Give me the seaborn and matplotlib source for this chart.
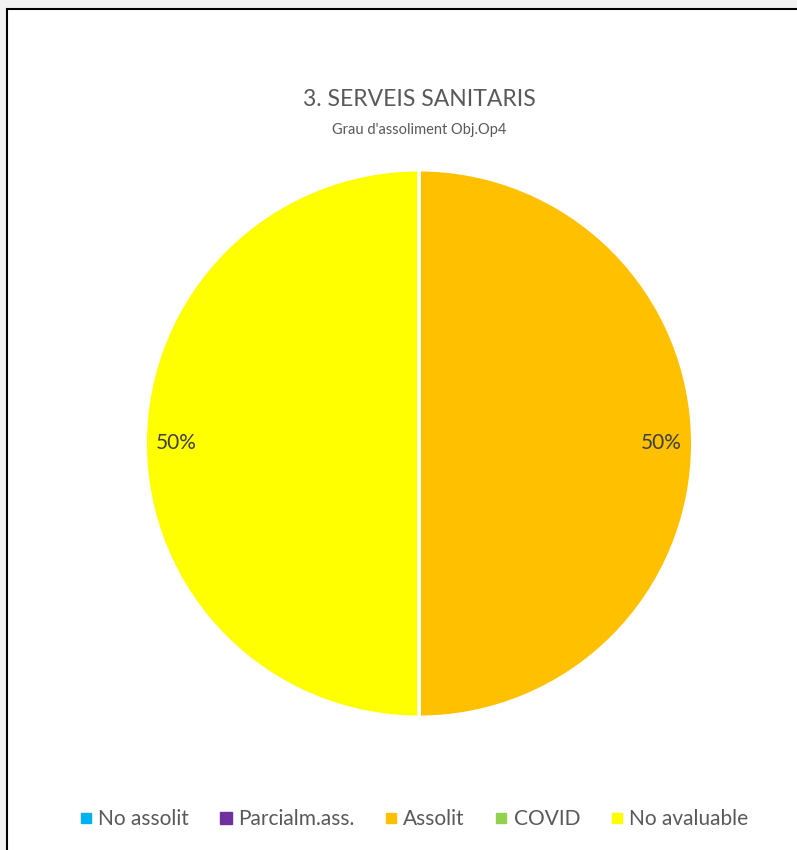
import matplotlib
matplotlib.use("Agg")
import matplotlib.pyplot as plt
from matplotlib.patches import Rectangle
from matplotlib.lines import Line2D
import seaborn as sns

categories = ["No assolit", "Parcialm.ass.", "Assolit", "COVID", "No avaluable"]
values = [0, 0, 50, 0, 50]
colors_hex = ["#00B0F0", "#7030A0", "#FFC000", "#92D050", "#FFFF00"]
title = "3. SERVEIS SANITARIS"
subtitle = "Grau d'assoliment Obj.Op4"

sns.set_style("white")
plt.rcParams['font.family'] = ['Lato', 'DejaVu Sans']
palette = sns.color_palette(colors_hex)
text_color = "#595959"

W, H = 797, 850
fig = plt.figure(figsize=(W / 100, H / 100), dpi=100, facecolor="#F2F2F2")

# chart area frame
fig.patches.append(Rectangle((6.5 / W, -0.1), 1.0, 1.1 - 9 / H, transform=fig.transFigure,
                             facecolor="white", edgecolor="black", linewidth=1.5, zorder=-5))

cx, cy, r = 419, 443.5, 276.5
ax = fig.add_axes([(cx - r) / W, (H - cy - r) / H, 2 * r / W, 2 * r / H])
ax.set_zorder(2)
ax.patch.set_alpha(0)

def fmt(p):
    return f"{p:.0f}%" if p > 0 else ""

wedges, texts, autotexts = ax.pie(values, colors=palette, startangle=90, counterclock=False,
                                  autopct=fmt, pctdistance=0.885, radius=1,
                                  wedgeprops=dict(edgecolor="white", linewidth=2.5),
                                  textprops=dict(color="#404040", fontsize=15))
ax.set_xlim(-1.01, 1.01)
ax.set_ylim(-1.01, 1.01)
ax.set_aspect("equal")
ax.axis("off")

fig.text(cx / W, 1 - 100 / H, title, ha="center", va="center", fontsize=16.5, color=text_color)
fig.text(cx / W, 1 - 130 / H, subtitle, ha="center", va="center", fontsize=10.5, color=text_color)

msizes = [6.5, 9, 6.5, 6.5, 6.5]
handles = [Line2D([0], [0], marker="s", linestyle="none", markersize=m,
                  markerfacecolor=c, markeredgecolor=c) for c, m in zip(palette, msizes)]
leg = fig.legend(handles, categories, loc="center", bbox_to_anchor=(413 / W, 1 - 819 / H),
                 ncol=5, frameon=False, fontsize=15, labelcolor=text_color,
                 handletextpad=0.2, columnspacing=1.35, handlelength=0.8)
leg.set_zorder(3)

fig.savefig("out.png", dpi=100, facecolor=fig.get_facecolor())
